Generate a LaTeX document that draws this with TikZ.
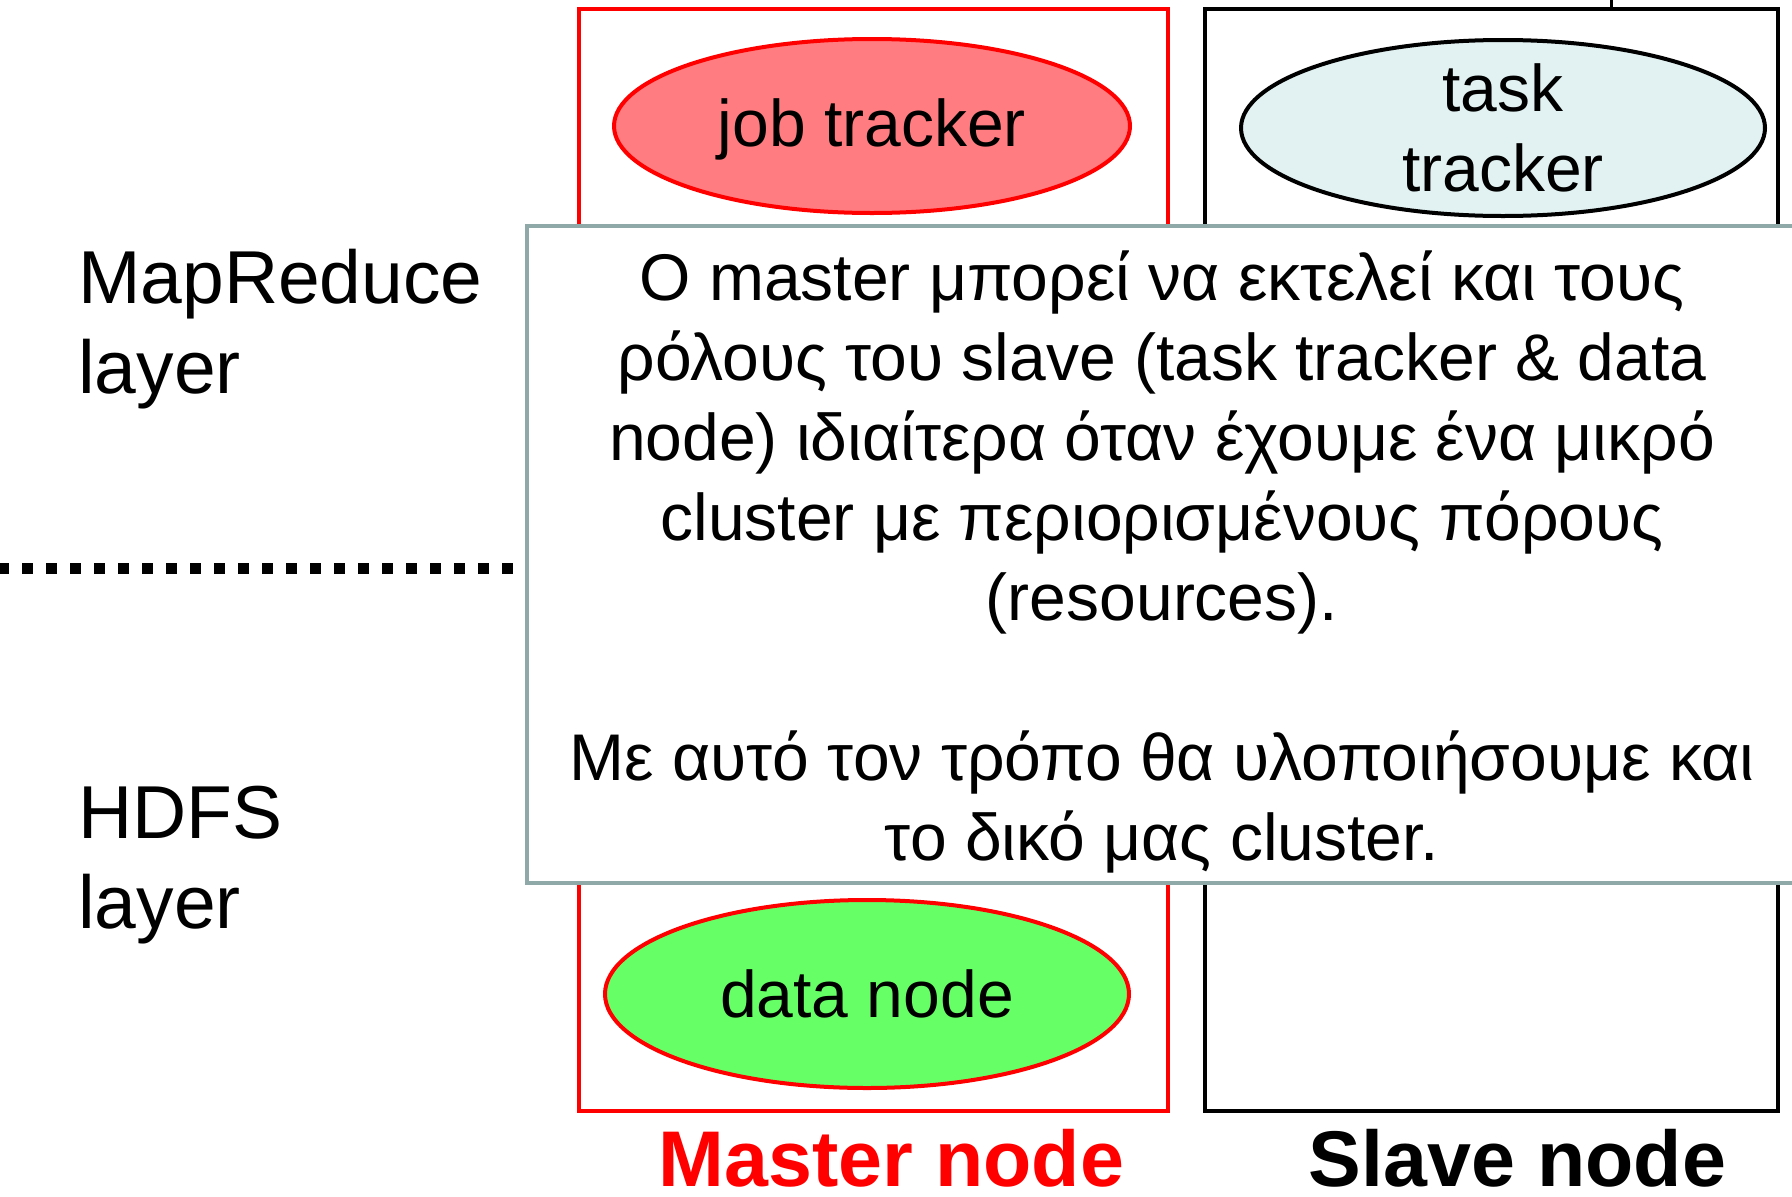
\documentclass[tikz,border=0pt]{standalone}
\usepackage{fontspec}
\setmainfont{Liberation Sans}
\usetikzlibrary{positioning, shapes.geometric}
\definecolor{masterred}{HTML}{FF0000}
\definecolor{jobfill}{HTML}{FF7C80}
\definecolor{datafill}{HTML}{66FF66}
\definecolor{taskfill}{HTML}{E2F2F2}
\definecolor{notegray}{HTML}{8FA8A8}
\tikzset{
  nodebox/.style={draw, line width=3.5pt, inner sep=0pt},
  daemon/.style={ellipse, draw, line width=4pt, inner sep=0pt, align=center,
    font=\fontsize{66}{80}\selectfont},
  layer/.style={anchor=north west, inner sep=0pt, align=left,
    font=\fontsize{75}{90}\selectfont},
  caption/.style={inner sep=0pt, font=\fontsize{79}{90}\selectfont\bfseries},
  notebox/.style={draw=notegray, fill=white, line width=4pt, inner sep=0pt},
  notetext/.style={inner sep=0pt, align=center, font=\fontsize{66}{80}\selectfont},
  separator/.style={line width=11pt, dash pattern=on 11pt off 13pt}
}

\begin{document}
\begin{tikzpicture}[x=1pt, y=-1pt]
  \useasboundingbox (0,0) rectangle (1792,1197);

  \node[nodebox, draw=masterred, minimum width=589, minimum height=1102] (master) at (873.5,560) {};
  \node[nodebox, minimum width=573, minimum height=1102] (slave) at (1491.5,560) {};

  \coordinate (up) at (1611,-5);
  \draw[line width=3pt] (up) -- (up |- slave.north);

  \node[daemon, draw=masterred, fill=jobfill, text depth=7pt, minimum width=516, minimum height=174] (job) at (872,126) {job tracker};
  \node[daemon, fill=taskfill, inner ysep=-3pt, minimum width=524, minimum height=176] (task) at (1503,128) {task\\tracker};
  \node[daemon, draw=masterred, fill=datafill, minimum width=524, minimum height=188] (data) at (867,994) {data node};

  \node[caption, text=masterred, below=16pt of master, xshift=18pt] (mastercap) {Master node};
  \node[caption, below=16pt of slave, xshift=26pt] (slavecap) {Slave node};

  \node[layer] (mrlayer) at (78,249) {MapReduce\\layer};
  \node[layer] (hdfslayer) at (78,786) {HDFS\\layer};

  \coordinate (sepleft) at (-2,568);
  \coordinate (sepright) at (513,568);
  \draw[separator] (sepleft) -- (sepright);

  \node[notebox, minimum width=1270, minimum height=657] (note) at (1162,554.5) {};
  \node[notetext, yshift=-7pt] (notetxt) at (note.center) {Ο master μπορεί να εκτελεί και τους\\
    ρόλους του slave (task tracker \& data\\
    node) ιδιαίτερα όταν έχουμε ένα μικρό\\
    cluster με περιορισμένους πόρους\\
    (resources).\\[80pt]
    Με αυτό τον τρόπο θα υλοποιήσουμε και\\
    το δικό μας cluster.};
\end{tikzpicture}
\end{document}
